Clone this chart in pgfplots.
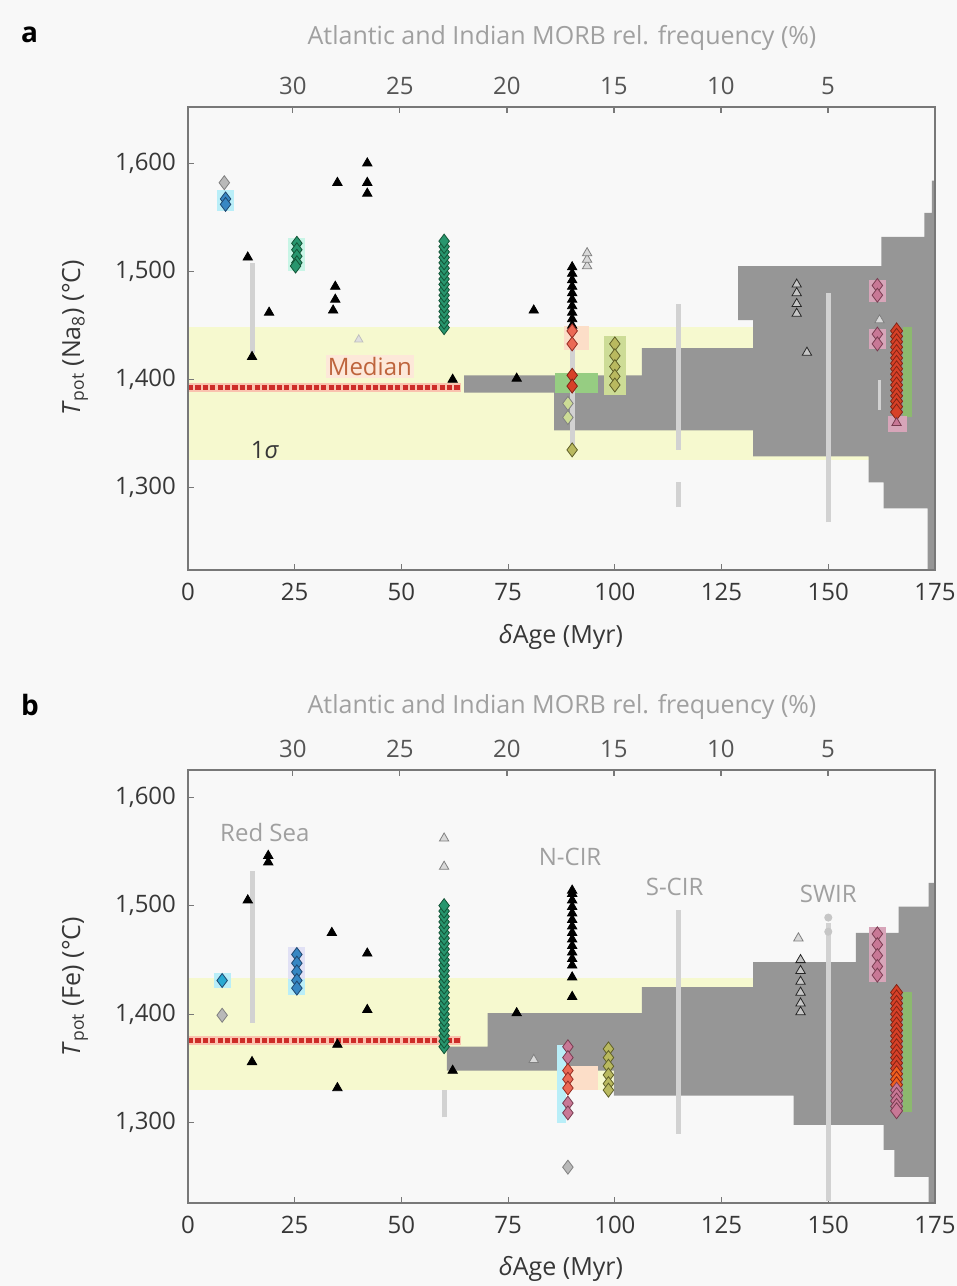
\documentclass[border=0pt]{standalone}
\usepackage{fontspec}
\setmainfont{Open Sans}
\usepackage{pgfplots}
\pgfplotsset{compat=1.18}
\definecolor{bgc}{RGB}{248,248,248}
\definecolor{yband}{RGB}{246,249,207}
\definecolor{histg}{RGB}{150,150,150}
\definecolor{rangeg}{RGB}{210,210,210}
\definecolor{axg}{RGB}{120,120,120}
\definecolor{txt}{RGB}{55,55,55}
\definecolor{ttxt}{RGB}{85,85,85}
\definecolor{ltxt}{RGB}{160,160,160}
\definecolor{medred}{RGB}{205,45,40}
\definecolor{medglow}{RGB}{250,195,175}
\definecolor{grn}{RGB}{40,150,110}
\definecolor{grnd}{RGB}{20,85,55}
\definecolor{blu}{RGB}{55,135,195}
\definecolor{blud}{RGB}{30,70,110}
\definecolor{cyanm}{RGB}{40,170,210}
\definecolor{cyanbg}{RGB}{185,238,248}
\definecolor{lilac}{RGB}{225,225,245}
\definecolor{mintbg}{RGB}{200,245,230}
\definecolor{peach}{RGB}{252,222,200}
\definecolor{lgreen}{RGB}{150,205,130}
\definecolor{olive}{RGB}{185,185,95}
\definecolor{olived}{RGB}{95,95,40}
\definecolor{oliveb}{RGB}{205,220,150}
\definecolor{salmon}{RGB}{235,105,85}
\definecolor{salmond}{RGB}{150,45,35}
\definecolor{pinkm}{RGB}{200,120,150}
\definecolor{pinkd}{RGB}{120,60,80}
\definecolor{pinkbg}{RGB}{215,165,185}
\definecolor{redc}{RGB}{215,65,40}
\definecolor{redd}{RGB}{130,35,20}
\definecolor{orng}{RGB}{240,95,30}
\definecolor{grstrip}{RGB}{140,185,110}
\definecolor{medtxt}{RGB}{190,100,60}
\pgfplotsset{
 every axis/.append style={scale only axis, width=373.5pt, anchor=south west},
 tri/.style={only marks, mark=triangle*, mark size=2.7pt, color=black},
 gtri/.style={only marks, mark=triangle*, mark size=2.7pt, mark options={draw=gray, fill=gray!30}},
 dtri/.style={only marks, mark=triangle*, mark size=2.7pt, mark options={draw=black!85, fill=gray!45}},
 dia/.style 2 args={only marks, mark=diamond*, mark size=3.5pt, mark options={draw=#2, fill=#1}},
 rng/.style={line width=2.5pt, color=rangeg},
 bgbox/.style={fill=#1, draw=none},
 bandax/.style={xmin=0, xmax=175, hide axis, clip=true},
 histax/.style={xmin=0, xmax=34.9, x dir=reverse, axis x line*=top, hide y axis,
   axis line style={axg, line width=0.8pt}, tick style={axg, line width=0.6pt},
   major tick length=3pt, tick align=inside, xtick={5,10,...,30},
   ticklabel style={font=\fontsize{12}{14}\selectfont, text=ttxt},
   xticklabel style={yshift=2.7pt},
   /pgf/number format/assume math mode=true, clip=true},
 mainax/.style={xmin=0, xmax=175, axis line style={axg, line width=0.8pt},
   tick style={axg, line width=0.6pt}, major tick length=3pt, tick align=inside,
   xtick={0,25,...,175}, ytick={1300,1400,1500,1600}, xtick pos=left, ytick pos=left,
   ticklabel style={font=\fontsize{12}{14}\selectfont, text=txt},
   xticklabel style={yshift=-3pt}, yticklabel style={xshift=-2.5pt},
   /pgf/number format/assume math mode=true, /pgf/number format/1000 sep={,}, clip=true},
}
\begin{document}
\begin{tikzpicture}
\fill[bgc] (0,0) rectangle (478.5pt,643pt);
\path[use as bounding box] (0,0) rectangle (478.5pt,643pt);

% ================= PANEL A =================
\begin{axis}[bandax, at={(94pt,358pt)}, height=231.5pt, ymin=1224, ymax=1652]
\addplot[bgbox=yband] coordinates {(0,1326) (175,1326) (175,1449) (0,1449)} -- cycle;
\addplot[line width=4.5pt, medglow] coordinates {(0,1393) (64,1393)};
\addplot[line width=2.4pt, medred, dash pattern=on 2.6pt off 1.1pt] coordinates {(0,1393) (64,1393)};
\end{axis}

\begin{axis}[histax, at={(94pt,358pt)}, height=231.5pt, ymin=1224, ymax=1652]
\addplot[fill=histg, draw=none] coordinates {
(0,1220) (0.35,1220) (0.35,1281) (2.4,1281) (2.4,1305) (3.1,1305) (3.1,1329)
(8.5,1329) (8.5,1353) (17.8,1353) (17.8,1388) (22,1388) (22,1404) (13.7,1404)
(13.7,1429) (8.5,1429) (8.5,1455) (9.2,1455) (9.2,1505) (2.5,1505) (2.5,1532)
(0.5,1532) (0.5,1554) (0.15,1554) (0.15,1584) (0,1584)} -- cycle;
\end{axis}

\begin{axis}[mainax, at={(94pt,358pt)}, height=231.5pt, ymin=1224, ymax=1652]
% backgrounds
\addplot[bgbox=cyanbg] coordinates {(6.8,1556)(10.8,1556)(10.8,1575)(6.8,1575)} -- cycle;
\addplot[bgbox=mintbg] coordinates {(23.5,1500)(27.5,1500)(27.5,1531)(23.5,1531)} -- cycle;
\addplot[bgbox=peach] coordinates {(88,1427)(94,1427)(94,1450)(88,1450)} -- cycle;
\addplot[bgbox=lgreen] coordinates {(86,1388)(96,1388)(96,1406)(86,1406)} -- cycle;
\addplot[bgbox=oliveb] coordinates {(97.5,1386)(102.5,1386)(102.5,1440)(97.5,1440)} -- cycle;
\addplot[bgbox=pinkbg] coordinates {(159.5,1428)(163.5,1428)(163.5,1447)(159.5,1447)} -- cycle;
\addplot[bgbox=pinkbg] coordinates {(159.5,1472)(163.5,1472)(163.5,1492)(159.5,1492)} -- cycle;
\addplot[bgbox=grstrip] coordinates {(167.5,1365)(169.5,1365)(169.5,1449)(167.5,1449)} -- cycle;
\addplot[bgbox=pinkbg] coordinates {(164,1352)(168.5,1352)(168.5,1366)(164,1366)} -- cycle;
% ranges
\addplot[rng] coordinates {(15,1425)(15,1508)};
\addplot[rng] coordinates {(90,1340)(90,1428)};
\addplot[rng] coordinates {(115,1335)(115,1470)};
\addplot[rng] coordinates {(115,1282)(115,1305)};
\addplot[rng] coordinates {(150,1268)(150,1480)};
\addplot[rng, line width=1.2pt] coordinates {(162,1372)(162,1400)};
% markers
\addplot[dia={gray!55}{gray}] coordinates {(8.5,1582)};
\addplot[dia={blu}{blud}] coordinates {(8.8,1567)(8.8,1562)};
\addplot[dia={grn}{grnd}] coordinates {(25.5,1526)(25.5,1520)(25.5,1514)(25.5,1508)(25.2,1505)};
\addplot[dia={grn}{grnd}] coordinates {(60,1448)(60,1453)(60,1458)(60,1463)(60,1468)(60,1473)(60,1478)(60,1483)(60,1488)(60,1493)(60,1498)(60,1503)(60,1508)(60,1513)(60,1518)(60,1523)(60,1528)};
\addplot[only marks, mark=triangle*, mark size=2.4pt, mark options={draw=gray!50, fill=gray!25}] coordinates {(40,1437)};
\addplot[tri] coordinates {(14,1513)(15,1421)(19,1462)(34.5,1486)(34.5,1474)(34,1464)(35,1582)(42,1600)(42,1582)(42,1572)(62,1400)(77,1401)(81,1464)
(90,1450)(90,1456)(90,1462)(90,1468)(90,1474)(90,1480)(90,1486)(90,1492)(90,1498)(90,1504)};
\addplot[gtri] coordinates {(93.5,1505)(93.5,1511)(93.5,1517)};
\addplot[dia={salmon}{salmond}] coordinates {(90,1445)(90,1433)};
\addplot[dia={redc}{redd}] coordinates {(90,1404)(90,1394)};
\addplot[dia={oliveb}{gray}] coordinates {(89,1378)(89,1365)};
\addplot[dia={olive}{olived}] coordinates {(90,1335)};
\addplot[dia={olive}{olived}] coordinates {(100,1433)(100,1422)(100,1412)(100,1403)(100,1395)};
\addplot[dtri] coordinates {(142.6,1488)(142.6,1480)(142.6,1470)(142.6,1461)(145,1425)};
\addplot[dia={pinkm}{pinkd}] coordinates {(161.5,1487)(161.5,1478)(161.5,1442)(161.5,1433)};
\addplot[gtri] coordinates {(162,1455)};
\addplot[only marks, mark=diamond*, mark size=4pt, mark options={draw=redd, fill=redc}] coordinates {(166,1445)(166,1440)(166,1435)(166,1430)(166,1425)(166,1420)(166,1415)(166,1410)(166,1405)(166,1400)(166,1395)(166,1390)(166,1385)(166,1380)(166,1375)(166,1370)};
\addplot[only marks, mark=triangle*, mark size=2.7pt, mark options={draw=pinkd, fill=pinkm}] coordinates {(166,1360)};
\node[font=\fontsize{12}{14}\selectfont, text=medtxt, fill=peach!70, inner sep=1pt] at (axis cs:42.6,1412) {Median};
\node[font=\fontsize{12}{14}\selectfont, text=txt] at (axis cs:18,1335) {1\textit{σ}};
\end{axis}

% ================= PANEL B =================
\begin{axis}[bandax, at={(94pt,41.5pt)}, height=216.5pt, ymin=1226, ymax=1625]
\addplot[bgbox=yband] coordinates {(0,1330) (175,1330) (175,1433) (0,1433)} -- cycle;
\addplot[line width=4.5pt, medglow] coordinates {(0,1376) (64,1376)};
\addplot[line width=2.4pt, medred, dash pattern=on 2.6pt off 1.1pt] coordinates {(0,1376) (64,1376)};
\end{axis}

\begin{axis}[histax, at={(94pt,41.5pt)}, height=216.5pt, ymin=1226, ymax=1625]
\addplot[fill=histg, draw=none] coordinates {
(0,1220) (0.3,1220) (0.3,1250) (1.9,1250) (1.9,1275) (2.4,1275) (2.4,1298)
(6.6,1298) (6.6,1325) (15,1325) (15,1348) (22.8,1348) (22.8,1370) (20.9,1370)
(20.9,1401) (13.7,1401) (13.7,1425) (8.5,1425) (8.5,1448) (3.7,1448) (3.7,1475)
(1.7,1475) (1.7,1499) (0.3,1499) (0.3,1521) (0,1521)} -- cycle;
\end{axis}

\begin{axis}[mainax, at={(94pt,41.5pt)}, height=216.5pt, ymin=1226, ymax=1625]
% backgrounds
\addplot[bgbox=cyanbg] coordinates {(6,1424)(10,1424)(10,1438)(6,1438)} -- cycle;
\addplot[bgbox=cyanbg] coordinates {(23.5,1418)(27.5,1418)(27.5,1432)(23.5,1432)} -- cycle;
\addplot[bgbox=lilac] coordinates {(23.5,1432)(27.5,1432)(27.5,1462)(23.5,1462)} -- cycle;
\addplot[bgbox=cyanbg] coordinates {(86.5,1300)(88.5,1300)(88.5,1372)(86.5,1372)} -- cycle;
\addplot[bgbox=peach] coordinates {(88,1330)(96,1330)(96,1352)(88,1352)} -- cycle;
\addplot[bgbox=pinkbg] coordinates {(159.5,1430)(163.5,1430)(163.5,1480)(159.5,1480)} -- cycle;
\addplot[bgbox=grstrip] coordinates {(167.5,1310)(169.5,1310)(169.5,1420)(167.5,1420)} -- cycle;
% ranges
\addplot[rng] coordinates {(15,1392)(15,1532)};
\addplot[rng] coordinates {(60,1305)(60,1330)};
\addplot[rng] coordinates {(115,1290)(115,1496)};
\addplot[rng] coordinates {(150,1228)(150,1484)};
\addplot[only marks, mark=*, mark size=1.8pt, color=gray!45] coordinates {(150,1489)(150,1476)};
% markers
\addplot[dia={cyanm}{blud}] coordinates {(8,1431)};
\addplot[dia={gray!55}{gray}] coordinates {(8,1399)};
\addplot[dia={blu}{blud}] coordinates {(25.5,1455)(25.5,1447)(25.5,1439)(25.5,1431)(25.5,1424)};
\addplot[dia={grn}{grnd}] coordinates {(60,1370)(60,1375)(60,1380)(60,1385)(60,1390)(60,1395)(60,1400)(60,1405)(60,1410)(60,1415)(60,1420)(60,1425)(60,1430)(60,1435)(60,1440)(60,1445)(60,1450)(60,1455)(60,1460)(60,1465)(60,1470)(60,1475)(60,1480)(60,1485)(60,1490)(60,1495)(60,1500)};
\addplot[tri] coordinates {(14,1505)(18.8,1546)(18.8,1540)(33.7,1475)(42,1456)(42,1404)(35,1372)(15,1356)(35,1332)(62,1348)(77,1401)
(90,1416)(90,1434)(90,1445)(90,1451)(90,1457)(90,1463)(90,1469)(90,1475)(90,1481)(90,1487)(90,1493)(90,1499)(90,1505)(90,1511)(90,1514)};
\addplot[gtri] coordinates {(60,1562)(60,1536)(81,1358)(143,1470)};
\addplot[dtri] coordinates {(143.5,1450)(143.5,1440)(143.5,1430)(143.5,1420)(143.5,1410)(143.5,1402)};
\addplot[dia={pinkm}{pinkd}] coordinates {(89,1370)(89,1360)(89,1318)(89,1309)};
\addplot[dia={salmon}{salmond}] coordinates {(89,1348)(89,1340)(89,1332)};
\addplot[dia={gray!55}{gray}] coordinates {(89,1259)};
\addplot[dia={olive}{olived}] coordinates {(98.5,1368)(98.5,1360)(98.5,1352)(98.5,1344)(98.5,1336)(98.5,1330)};
\addplot[dia={pinkm}{pinkd}] coordinates {(161.5,1474)(161.5,1464)(161.5,1454)(161.5,1444)(161.5,1436)};
\addplot[only marks, mark=diamond*, mark size=4pt, mark options={draw=redd, fill=redc}] coordinates {(166,1420)(166,1415)(166,1410)(166,1405)(166,1400)(166,1395)(166,1390)(166,1385)(166,1380)(166,1375)(166,1370)(166,1365)(166,1360)(166,1355)(166,1350)};
\addplot[only marks, mark=diamond*, mark size=4pt, mark options={draw=redd, fill=orng}] coordinates {(166,1345)(166,1340)(166,1335)};
\addplot[only marks, mark=diamond*, mark size=4pt, mark options={draw=pinkd, fill=pinkm}] coordinates {(166,1330)(166,1325)(166,1320)(166,1315)(166,1311)};
\node[font=\fontsize{12}{14}\selectfont, text=ltxt] at (axis cs:18,1567) {Red Sea};
\node[font=\fontsize{12}{14}\selectfont, text=ltxt] at (axis cs:89.5,1545) {N-CIR};
\node[font=\fontsize{12}{14}\selectfont, text=ltxt] at (axis cs:114,1517) {S-CIR};
\node[font=\fontsize{12}{14}\selectfont, text=ltxt] at (axis cs:150,1511) {SWIR};
\end{axis}

% ================= LABELS =================
\node[font=\bfseries\fontsize{14}{16}\selectfont, anchor=west] at (7pt,625.5pt) {a};
\node[font=\bfseries\fontsize{14}{16}\selectfont, anchor=west] at (7pt,290.5pt) {b};
\node[font=\fontsize{12.5}{14}\selectfont, text=ltxt] at (281pt,624pt) {Atlantic and Indian MORB rel. frequency (\%)};
\node[font=\fontsize{12.5}{14}\selectfont, text=ltxt] at (281pt,289.5pt) {Atlantic and Indian MORB rel. frequency (\%)};
\node[font=\fontsize{12.5}{14}\selectfont, text=txt] at (280.5pt,324.5pt) {\textit{δ}Age (Myr)};
\node[font=\fontsize{12.5}{14}\selectfont, text=txt] at (280.5pt,8.5pt) {\textit{δ}Age (Myr)};
\node[font=\fontsize{12.5}{14}\selectfont, text=txt, rotate=90] at (37.5pt,474pt) {\textit{T}\textsubscript{pot} (Na\textsubscript{8}) (°C)};
\node[font=\fontsize{12.5}{14}\selectfont, text=txt, rotate=90] at (37.5pt,149.75pt) {\textit{T}\textsubscript{pot} (Fe) (°C)};
\end{tikzpicture}
\end{document}
